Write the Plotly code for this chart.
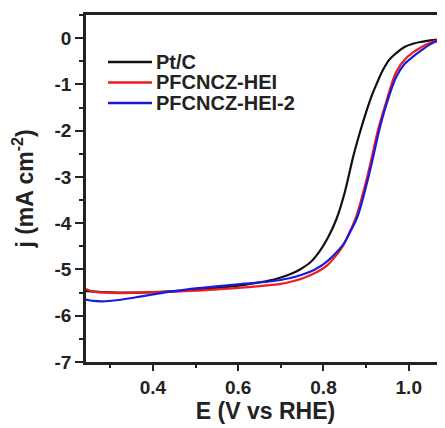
import plotly.graph_objects as go

# ---- data ----
E_ptc = [0.243, 0.28, 0.32, 0.36, 0.40, 0.45, 0.50, 0.55, 0.60, 0.65, 0.69, 0.72, 0.745, 0.77,
         0.79, 0.81, 0.83, 0.85, 0.87, 0.885, 0.90, 0.915, 0.925, 0.94, 0.955, 0.971, 0.99, 1.01, 1.03, 1.05, 1.085]
j_ptc = [-5.47, -5.49, -5.50, -5.50, -5.49, -5.47, -5.44, -5.40, -5.35, -5.28, -5.20, -5.11, -5.00, -4.84,
         -4.62, -4.32, -3.92, -3.33, -2.55, -2.05, -1.60, -1.20, -0.98, -0.68, -0.46, -0.32, -0.19, -0.12, -0.08,
         -0.05, -0.01]

E_hei = [0.243, 0.26, 0.29, 0.32, 0.36, 0.40, 0.45, 0.50, 0.55, 0.60, 0.65, 0.70, 0.73, 0.755, 0.775,
         0.795, 0.81, 0.825, 0.845, 0.86, 0.877, 0.897, 0.912, 0.928, 0.947, 0.971, 0.994, 1.01, 1.03, 1.05, 1.07, 1.085]
j_hei = [-5.42, -5.48, -5.50, -5.51, -5.50, -5.49, -5.48, -5.46, -5.43, -5.40, -5.36, -5.31, -5.25, -5.18, -5.10,
         -5.00, -4.90, -4.75, -4.50, -4.22, -3.85, -3.20, -2.63, -1.98, -1.38, -0.72, -0.43, -0.31, -0.19, -0.10, -0.04, -0.01]

E_hei2 = [0.243, 0.26, 0.28, 0.32, 0.36, 0.40, 0.45, 0.50, 0.555, 0.60, 0.673, 0.72, 0.751, 0.78,
          0.805, 0.825, 0.847, 0.862, 0.88, 0.90, 0.915, 0.931, 0.947, 0.971, 0.99, 1.01, 1.03, 1.049, 1.07, 1.085]
j_hei2 = [-5.65, -5.68, -5.69, -5.66, -5.60, -5.54, -5.47, -5.41, -5.36, -5.32, -5.26, -5.19, -5.11, -5.00,
          -4.85, -4.68, -4.45, -4.20, -3.85, -3.20, -2.63, -1.98, -1.45, -0.83, -0.56, -0.40, -0.26, -0.14, -0.05, -0.01]

series_names = ["Pt/C", "PFCNCZ-HEI", "PFCNCZ-HEI-2"]
series_colors = ["#111111", "#ee1c1c", "#1a1adf"]
x_tickvals = [0.4, 0.6, 0.8, 1.0]
x_ticktext = ["0.4", "0.6", "0.8", "1.0"]
y_tickvals = [0, -1, -2, -3, -4, -5, -6, -7]
y_ticktext = ["0", "-1", "-2", "-3", "-4", "-5", "-6", "-7"]

FONT = "Liberation Sans, Arial, sans-serif"
INK = "#222222"

# the page body adds an 8px margin, so the figure is laid out 8px smaller
OFF = 8
W, H = 445 - OFF, 428 - OFF
ML, MR, MT, MB = 86 - OFF, 0, 15 - OFF, 66
PW, PH = W - ML - MR, H - MT - MB


def px_to_paper(px, py):
    # px, py are reference-window pixels
    return (px - OFF - ML) / PW, (H - MB - (py - OFF)) / PH


fig = go.Figure()
for E, j, name, color in zip([E_ptc, E_hei, E_hei2], [j_ptc, j_hei, j_hei2], series_names, series_colors):
    fig.add_trace(go.Scatter(x=E, y=j, mode="lines", name=name, showlegend=False,
                             line=dict(color=color, width=2.2, shape="spline", smoothing=1.0)))

# manual legend (tight row spacing like the reference)
shapes, annotations = [], []
for i, (name, color) in enumerate(zip(series_names, series_colors)):
    row_y = 62 + i * 20.5
    x0, y0 = px_to_paper(108, row_y)
    x1, _ = px_to_paper(152, row_y)
    shapes.append(dict(type="line", xref="paper", yref="paper", x0=x0, x1=x1, y0=y0, y1=y0,
                       line=dict(color=color, width=2.5)))
    tx, ty = px_to_paper(154, row_y)
    annotations.append(dict(xref="paper", yref="paper", x=tx, y=ty, xanchor="left", yanchor="middle",
                            text=name, showarrow=False,
                            font=dict(family=FONT, size=20, color=INK, weight="bold")))

axis_common = dict(showgrid=False, zeroline=False, showline=True, linecolor=INK, linewidth=2.5,
                   ticks="outside", tickwidth=2, tickcolor=INK, automargin=False,
                   tickfont=dict(family=FONT, size=19, color=INK, weight="bold"))

fig.update_layout(
    width=W, height=H,
    margin=dict(l=ML, r=MR, t=MT, b=MB, autoexpand=False),
    paper_bgcolor="white", plot_bgcolor="white",
    showlegend=False,
    shapes=shapes, annotations=annotations,
    xaxis=dict(range=[0.243, 1.085], tickvals=x_tickvals, ticktext=x_ticktext, mirror=True, ticklen=6,
               minor=dict(dtick=0.1, tick0=0.3, ticks="outside", ticklen=3, tickwidth=2, tickcolor=INK),
               title=dict(text="E (V vs RHE)", standoff=6,
                          font=dict(family=FONT, size=23, color=INK, weight="bold")),
               **axis_common),
    yaxis=dict(range=[-7, 0.5], tickvals=y_tickvals, ticktext=y_ticktext, mirror=False, ticklen=8,
               minor=dict(dtick=0.5, tick0=-6.5, ticks="outside", ticklen=4, tickwidth=2, tickcolor=INK),
               title=dict(text="j (mA cm<sup>-2</sup>)", standoff=20,
                          font=dict(family=FONT, size=23, color=INK, weight="bold")),
               **axis_common),
)

fig.write_html("out.html")
